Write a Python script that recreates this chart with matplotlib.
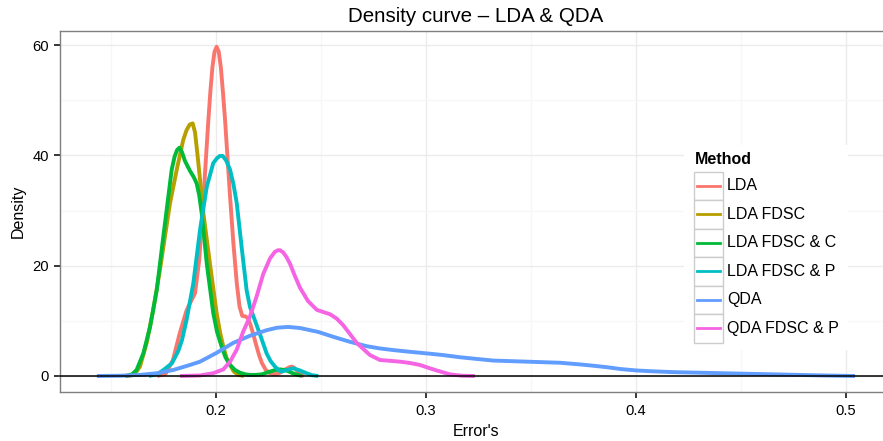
import matplotlib
matplotlib.use("Agg")
import matplotlib.pyplot as plt
from matplotlib.patches import Rectangle
from matplotlib.lines import Line2D

plt.rcParams['font.family'] = ['Liberation Sans', 'DejaVu Sans']

methods = ["LDA", "LDA FDSC", "LDA FDSC & C", "LDA FDSC & P", "QDA", "QDA FDSC & P"]
colors = ["#F8766D", "#B79F00", "#00BA38", "#00BFC4", "#619CFF", "#F564E3"]

# density estimates of the error rate for each method
lda_x = [0.1720, 0.1760, 0.1795, 0.1827, 0.1859, 0.1876, 0.1900, 0.1920, 0.1940, 0.1953,
         0.1963, 0.1973, 0.1983, 0.1993, 0.2003, 0.2013, 0.2023, 0.2033, 0.2043, 0.2055,
         0.2067, 0.2083, 0.2099, 0.2112, 0.2125, 0.2140, 0.2152, 0.2165, 0.2178, 0.2190,
         0.2205, 0.2218, 0.2237, 0.2257, 0.2280, 0.2300, 0.2330, 0.2350, 0.2362, 0.2375,
         0.2390, 0.2405, 0.2420]
lda_y = [0.0, 0.4, 2.9, 7.7, 11.8, 13.2, 15.0, 21.0, 32.0, 40.0,
         46.0, 51.5, 56.0, 58.8, 59.7, 58.8, 56.0, 51.5, 46.5, 39.5,
         32.5, 24.0, 16.8, 12.6, 10.9, 10.8, 10.5, 9.2, 7.5, 5.8,
         3.8, 2.4, 1.1, 0.5, 0.3, 0.5, 1.2, 1.6, 1.7, 1.4,
         0.8, 0.25, 0.0]

fdsc_x = [0.1567, 0.1595, 0.1614, 0.1638, 0.1670, 0.1701, 0.1733, 0.1757, 0.1781, 0.1813,
          0.1844, 0.1860, 0.1875, 0.1889, 0.1900, 0.1908, 0.1916, 0.1940, 0.1971, 0.2003,
          0.2020, 0.2035, 0.2050, 0.2067, 0.2085, 0.2106, 0.2133]
fdsc_y = [0.0, 0.1, 0.4, 1.7, 6.0, 12.0, 19.2, 25.3, 31.3, 37.4,
          42.8, 44.6, 45.6, 45.8, 44.2, 41.5, 38.6, 29.5, 20.4, 11.4,
          7.8, 5.3, 3.3, 2.0, 0.8, 0.2, 0.0]

fdsc_c_x = [0.1571, 0.1600, 0.1622, 0.1654, 0.1686, 0.1718, 0.1741, 0.1765, 0.1789, 0.1803,
            0.1815, 0.1826, 0.1838, 0.1852, 0.1876, 0.1895, 0.1908, 0.1920, 0.1932, 0.1956,
            0.1987, 0.2005, 0.2027, 0.2045, 0.2067, 0.2090, 0.2114, 0.2140, 0.2162, 0.2190,
            0.2219, 0.2257, 0.2285, 0.2305, 0.2325, 0.2343, 0.2365, 0.2381, 0.2410]
fdsc_c_y = [0.0, 0.3, 1.1, 4.1, 8.9, 15.6, 22.8, 30.1, 37.4, 39.8,
            41.0, 41.4, 40.6, 39.0, 37.2, 36.0, 34.9, 32.8, 29.5, 20.4,
            11.4, 8.0, 5.3, 3.4, 2.0, 1.1, 0.6, 0.3, 0.2, 0.2,
            0.3, 0.8, 1.1, 1.2, 1.1, 0.9, 0.5, 0.3, 0.0]

fdsc_p_x = [0.1681, 0.1724, 0.1757, 0.1790, 0.1820, 0.1838, 0.1860, 0.1892, 0.1924, 0.1956,
            0.1987, 0.2005, 0.2018, 0.2032, 0.2048, 0.2067, 0.2083, 0.2099, 0.2122, 0.2146,
            0.2162, 0.2186, 0.2210, 0.2241, 0.2260, 0.2281, 0.2300, 0.2313, 0.2338, 0.2368,
            0.2400, 0.2432, 0.2457, 0.2487]
fdsc_p_y = [0.0, 0.4, 1.3, 2.3, 4.5, 6.5, 10.2, 16.8, 26.5, 34.3,
            38.6, 39.5, 39.9, 39.9, 39.1, 37.4, 34.8, 31.3, 23.4, 15.5,
            12.5, 10.0, 7.5, 4.1, 2.7, 1.7, 1.0, 0.8, 1.1, 1.4,
            1.0, 0.5, 0.15, 0.0]

qda_x = [0.1433, 0.1543, 0.1638, 0.1718, 0.1797, 0.1876, 0.1924, 0.2003, 0.2082, 0.2162,
         0.2241, 0.2290, 0.2343, 0.2400, 0.2486, 0.2559, 0.2638, 0.2718, 0.2780, 0.2844,
         0.2920, 0.3003, 0.3080, 0.3162, 0.3240, 0.3320, 0.3400, 0.3480, 0.3560, 0.3638,
         0.3733, 0.3800, 0.3860, 0.3930, 0.4003, 0.4080, 0.4178, 0.4300, 0.4416, 0.4654,
         0.4892, 0.5043]
qda_y = [0.0, 0.05, 0.2, 0.5, 1.1, 2.0, 2.6, 4.2, 6.0, 7.3,
         8.3, 8.75, 8.9, 8.7, 8.0, 7.1, 6.2, 5.4, 5.0, 4.7,
         4.4, 4.1, 3.8, 3.4, 3.1, 2.8, 2.7, 2.6, 2.5, 2.4,
         2.1, 1.85, 1.6, 1.25, 1.0, 0.85, 0.7, 0.6, 0.5, 0.3,
         0.1, 0.0]

qda_p_x = [0.1829, 0.1924, 0.1986, 0.2035, 0.2067, 0.2099, 0.2129, 0.2162, 0.2194, 0.2225,
           0.2257, 0.2280, 0.2295, 0.2305, 0.2320, 0.2335, 0.2352, 0.2375, 0.2400, 0.2438,
           0.2480, 0.2510, 0.2543, 0.2575, 0.2606, 0.2670, 0.2733, 0.2781, 0.2830, 0.2876,
           0.2925, 0.2971, 0.3010, 0.3051, 0.3114, 0.3171, 0.3233]
qda_p_y = [0.0, 0.1, 0.5, 1.2, 2.6, 4.8, 8.0, 10.8, 14.5, 18.5,
           21.3, 22.5, 22.8, 22.8, 22.4, 21.6, 20.4, 18.2, 16.0, 13.6,
           12.0, 11.6, 11.2, 10.4, 9.2, 6.0, 3.8, 2.9, 2.75, 2.6,
           2.35, 2.0, 1.5, 1.0, 0.3, 0.05, 0.0]

curves = [(lda_x, lda_y), (fdsc_x, fdsc_y), (fdsc_c_x, fdsc_c_y),
          (fdsc_p_x, fdsc_p_y), (qda_x, qda_y), (qda_p_x, qda_p_y)]

W, H = 883, 441
fig = plt.figure(figsize=(W / 100, H / 100), dpi=100)


def fpos(x, y):
    # pixel position (from top-left) -> figure fraction
    return x / W, 1 - y / H


ax = fig.add_axes([60.2 / W, 48.6 / H, (892.8 - 60.2) / W, (410.3 - 48.6) / H])
ax.set_xlim(0.12581, 0.52229)
ax.set_ylim(-2.974, 62.61)

ax.set_xticks([0.2, 0.3, 0.4, 0.5])
ax.set_xticklabels(["0.2", "0.3", "0.4", "0.5"])
ax.set_xticks([0.15, 0.25, 0.35, 0.45], minor=True)
ax.set_yticks([0, 20, 40, 60])
ax.set_yticks([10, 30, 50], minor=True)
ax.grid(which="major", color="#EBEBEB", lw=1.0)
ax.grid(which="minor", color="#F7F7F7", lw=1.0)
ax.set_axisbelow(True)
ax.tick_params(which="major", direction="out", length=4.5, width=1.1, color="black",
               labelsize=10.6, labelcolor="black", pad=3.5)
ax.tick_params(which="minor", length=0)
for sp in ax.spines.values():
    sp.set_color("#7F7F7F")
    sp.set_linewidth(1.0)

for (xs, ys), c in zip(curves, colors):
    ax.plot(xs, ys, color=c, lw=2.8, solid_joinstyle="round", solid_capstyle="butt", zorder=3)

ax.axhline(0, color="black", lw=1.1, zorder=4)

ax.set_xlabel("Error's", fontsize=11.5, labelpad=5)
ax.set_ylabel("Density", fontsize=11.5, labelpad=5)
fig.text(476 / W, 1 - 16 / H, "Density curve \u2013 LDA & QDA", fontsize=14.8,
         ha="center", va="center")

# legend drawn inside the panel
x0, y0 = fpos(684, 350)
x1, y1 = fpos(848, 145)
fig.patches.append(Rectangle((x0, y0), x1 - x0, y1 - y0, transform=fig.transFigure,
                             facecolor="white", edgecolor="none", zorder=5))
tx, ty = fpos(695, 160)
fig.text(tx, ty, "Method", fontsize=11.5, fontweight="bold", ha="left", va="center", zorder=6)
key_w, key_h = 28.7, 28.5
for i, (m, c) in enumerate(zip(methods, colors)):
    top = 171.7 + i * key_h
    bx, by = fpos(694, top + key_h)
    fig.patches.append(Rectangle((bx, by), key_w / W, key_h / H, transform=fig.transFigure,
                                 facecolor="white", edgecolor="#CCCCCC", lw=1.0, zorder=6))
    lx0, ly = fpos(697, top + key_h / 2)
    lx1, _ = fpos(720, top + key_h / 2)
    fig.lines.append(Line2D([lx0, lx1], [ly, ly], transform=fig.transFigure,
                            color=c, lw=2.0, zorder=7))
    txx, tyy = fpos(727, top + key_h / 2)
    fig.text(txx, tyy, m, fontsize=11.5, ha="left", va="center", zorder=7)

fig.savefig("out.png", dpi=100)
